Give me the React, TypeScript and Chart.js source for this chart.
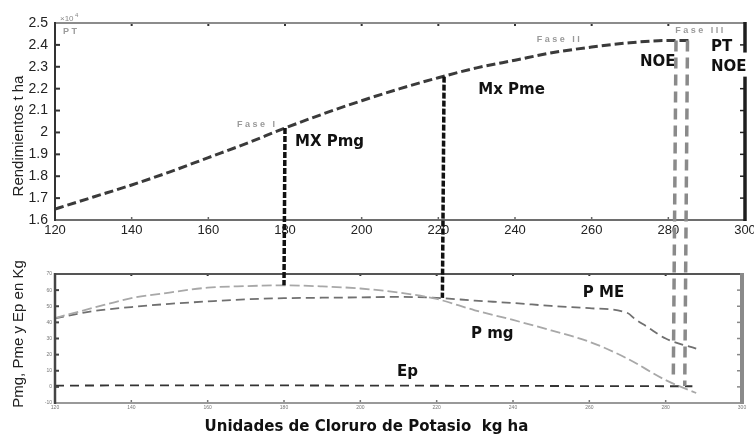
import React, { useEffect, useRef } from 'react';
import { Chart, registerables } from 'chart.js';

Chart.register(...registerables);

// ---------- data ----------
const xTickValues = [120, 140, 160, 180, 200, 220, 240, 260, 280, 300];
const yTopTickValues = [1.6, 1.7, 1.8, 1.9, 2.0, 2.1, 2.2, 2.3, 2.4, 2.5];
const yBottomTickValues = [-10, 0, 10, 20, 30, 40, 50, 60, 70];

const yieldDose = [120, 130, 140, 150, 160, 170, 180, 190, 200, 210, 220, 230, 240, 250, 260, 270, 280, 286];
const yieldValues = [1.65, 1.705, 1.76, 1.82, 1.885, 1.95, 2.02, 2.085, 2.145, 2.2, 2.25, 2.295, 2.33, 2.365, 2.39, 2.41, 2.42, 2.42];

const pmgDose = [120, 130, 140, 150, 160, 170, 180, 190, 200, 210, 220, 230, 240, 250, 260, 270, 280, 288];
const pmgValues = [42.7, 49, 55, 58.5, 61.5, 62.5, 63, 62.3, 61, 58.5, 54.5, 47.5, 41.5, 35, 28, 17.5, 4.2, -3.8];

const pmeDose = [120, 130, 140, 150, 160, 170, 180, 190, 200, 210, 220, 230, 240, 250, 260, 270, 272, 275, 280, 288];
const pmeValues = [42.5, 47, 49.5, 51.5, 53, 54.3, 55, 55.3, 55.5, 55.8, 55.2, 53.5, 52, 50.2, 48.8, 45.8, 42, 37.5, 30, 23.7];

const epDose = [120, 140, 160, 180, 200, 220, 240, 260, 280, 287];
const epValues = [0.8, 0.9, 0.9, 0.9, 0.8, 0.7, 0.6, 0.5, 0.4, 0.4];

// vertical links between the yield curve and the lower panel
const linkKinds = ['MX Pmg', 'Mx Pme', 'NOE', 'NOE'];
const linkDose = [180, 221.5, 282, 285];
const linkTopYield = [2.02, 2.255, 2.42, 2.42];
const linkBottomValue = [63, 55.2, 4.5, 0.5];

// annotation texts (data coordinates)
const topNotes = ['MX Pmg', 'Mx Pme', 'NOE', 'PT', 'NOE'];
const topNoteDose = [182.6, 230.4, 272.6, 291.1, 291.1];
const topNoteYield = [1.956, 2.193, 2.321, 2.389, 2.298];
const topSmallNotes = ['Fase I', 'Fase II', 'Fase III', 'PT'];
const topSmallDose = [167.5, 245.7, 281.8, 122.1];
const topSmallYield = [2.038, 2.423, 2.464, 2.462];
const bottomNotes = ['P ME', 'P mg', 'Ep'];
const bottomNoteDose = [258.3, 229.0, 209.6];
const bottomNoteValue = [58.4, 33.0, 9.4];

const rightAxisGap = [2.255, 2.365];

Chart.defaults.font.family = '"Liberation Sans", Arial, sans-serif';

// ---------- helpers ----------
type Side = { color: string; width: number };
type TickSty = { len: number; color: string; width: number };
type FrameCfg = {
  top: Side; bottom: Side; left: Side; right: Side;
  tickTop: TickSty; tickBottom: TickSty; tickLeft: TickSty; tickRight: TickSty;
  yTicks: number[];
  gap?: number[];
};

function makeFrame(id: string, cfg: FrameCfg) {
  return {
    id,
    afterDraw(chart: any) {
      const { ctx, chartArea: a, scales } = chart;
      const xs = scales.x;
      const ys = scales.y;
      ctx.save();
      ctx.setLineDash([]);
      const line = (x1: number, y1: number, x2: number, y2: number, s: Side) => {
        ctx.beginPath();
        ctx.strokeStyle = s.color;
        ctx.lineWidth = s.width;
        ctx.moveTo(x1, y1);
        ctx.lineTo(x2, y2);
        ctx.stroke();
      };
      xTickValues.forEach((v) => {
        const px = xs.getPixelForValue(v);
        line(px, a.top, px, a.top + cfg.tickTop.len, cfg.tickTop);
        line(px, a.bottom, px, a.bottom - cfg.tickBottom.len, cfg.tickBottom);
      });
      cfg.yTicks.forEach((v) => {
        const py = ys.getPixelForValue(v);
        line(a.left, py, a.left + cfg.tickLeft.len, py, cfg.tickLeft);
        const inGap = cfg.gap && v > cfg.gap[0] && v < cfg.gap[1];
        if (!inGap) line(a.right, py, a.right - cfg.tickRight.len, py, cfg.tickRight);
      });
      line(a.left, a.top, a.right, a.top, cfg.top);
      line(a.left, a.bottom, a.right, a.bottom, cfg.bottom);
      line(a.left, a.top - 1, a.left, a.bottom + 1, cfg.left);
      if (cfg.gap) {
        const gTop = ys.getPixelForValue(cfg.gap[1]);
        const gBot = ys.getPixelForValue(cfg.gap[0]);
        line(a.right, a.top - 1, a.right, gTop, cfg.right);
        line(a.right, gBot, a.right, a.bottom + 1, cfg.right);
      } else {
        line(a.right, a.top - 1, a.right, a.bottom + 1, cfg.right);
      }
      ctx.restore();
    },
  };
}

type NoteStyle = { font: string; color: string; spacing?: string };

function drawNotes(chart: any, texts: string[], xs: number[], ys: number[], st: NoteStyle) {
  const { ctx, scales } = chart;
  ctx.save();
  ctx.textBaseline = 'middle';
  ctx.textAlign = 'left';
  ctx.font = st.font;
  ctx.fillStyle = st.color;
  (ctx as any).letterSpacing = st.spacing || '0px';
  texts.forEach((t, i) => {
    ctx.fillText(t, scales.x.getPixelForValue(xs[i]), scales.y.getPixelForValue(ys[i]));
  });
  (ctx as any).letterSpacing = '0px';
  ctx.restore();
}

function rotatedText(ctx: CanvasRenderingContext2D, text: string, cx: number, cy: number, font: string, color: string) {
  ctx.save();
  ctx.translate(cx, cy);
  ctx.rotate(-Math.PI / 2);
  ctx.font = font;
  ctx.fillStyle = color;
  ctx.textAlign = 'center';
  ctx.textBaseline = 'middle';
  ctx.fillText(text, 0, 0);
  ctx.restore();
}

const bigBold = 'bold 15px "DejaVu Sans", sans-serif';
const smallGray = 'bold 9px "Liberation Sans", sans-serif';

export default function App() {
  const topRef = useRef<HTMLCanvasElement>(null);
  const botRef = useRef<HTMLCanvasElement>(null);

  useEffect(() => {
    const top = new Chart(topRef.current as HTMLCanvasElement, {
      type: 'line',
      data: {
        datasets: [
          {
            label: 'PT',
            data: yieldDose.map((x, i) => ({ x, y: yieldValues[i] })),
            borderColor: '#3a3a3a',
            borderWidth: 3,
            borderDash: [9, 4],
            pointRadius: 0,
            cubicInterpolationMode: 'monotone',
            fill: false,
          },
        ],
      },
      options: {
        animation: false,
        responsive: true,
        maintainAspectRatio: false,
        layout: { padding: { left: 0, top: 23, right: 9, bottom: 196 } },
        plugins: { legend: { display: false }, tooltip: { enabled: false } },
        scales: {
          x: {
            type: 'linear',
            min: 120,
            max: 300,
            afterBuildTicks: (s: any) => { s.ticks = xTickValues.map((v) => ({ value: v })); },
            afterFit: (s: any) => { s.height = 20; s.paddingLeft = 0; s.paddingRight = 0; },
            grid: { display: false, drawTicks: false },
            border: { display: false },
            ticks: { color: '#222', font: { size: 13 }, padding: 3, maxRotation: 0, autoSkip: false },
          },
          y: {
            type: 'linear',
            min: 1.6,
            max: 2.5,
            afterBuildTicks: (s: any) => { s.ticks = yTopTickValues.map((v) => ({ value: v })); },
            afterFit: (s: any) => { s.width = 55; s.paddingTop = 0; s.paddingBottom = 0; },
            grid: { display: false, drawTicks: false },
            border: { display: false },
            ticks: {
              color: '#222',
              font: { size: 14 },
              padding: 7,
              callback: (v: any) => String(Math.round(Number(v) * 10) / 10),
            },
          },
        },
      } as any,
      plugins: [
        makeFrame('topFrame', {
          top: { color: '#8c8c8c', width: 2 },
          bottom: { color: '#6e6e6e', width: 2 },
          left: { color: '#333', width: 2 },
          right: { color: '#1e1e1e', width: 3.5 },
          tickTop: { len: 3, color: '#333', width: 2 },
          tickBottom: { len: 3, color: '#666', width: 1.5 },
          tickLeft: { len: 5, color: '#333', width: 2 },
          tickRight: { len: 5, color: '#222', width: 1.5 },
          yTicks: yTopTickValues,
          gap: rightAxisGap,
        }),
        {
          id: 'topNotes',
          afterDraw(chart: any) {
            drawNotes(chart, topNotes, topNoteDose, topNoteYield, { font: bigBold, color: '#111' });
            drawNotes(chart, topSmallNotes, topSmallDose, topSmallYield, { font: smallGray, color: '#9a9a9a', spacing: '2.5px' });
            const { ctx, chartArea: a } = chart;
            rotatedText(ctx, 'Rendimientos t ha', 19, 136, '15px "Liberation Sans", Arial, sans-serif', '#222');
            ctx.save();
            ctx.fillStyle = '#888';
            ctx.font = '8px "Liberation Sans", sans-serif';
            ctx.textBaseline = 'alphabetic';
            ctx.fillText('\u00d710', a.left + 5, a.top - 2);
            ctx.font = '6px "Liberation Sans", sans-serif';
            ctx.fillText('4', a.left + 20, a.top - 6);
            ctx.restore();
          },
        },
      ],
    });

    const bottom = new Chart(botRef.current as HTMLCanvasElement, {
      type: 'line',
      data: {
        datasets: [
          {
            label: 'P mg',
            data: pmgDose.map((x, i) => ({ x, y: pmgValues[i] })),
            borderColor: '#a8a8a8',
            borderWidth: 1.8,
            borderDash: [10, 4],
            pointRadius: 0,
            cubicInterpolationMode: 'monotone',
            fill: false,
            clip: false,
          },
          {
            label: 'P ME',
            data: pmeDose.map((x, i) => ({ x, y: pmeValues[i] })),
            borderColor: '#707070',
            borderWidth: 1.8,
            borderDash: [9, 5],
            pointRadius: 0,
            cubicInterpolationMode: 'monotone',
            fill: false,
            clip: false,
          },
          {
            label: 'Ep',
            data: epDose.map((x, i) => ({ x, y: epValues[i] })),
            borderColor: '#333',
            borderWidth: 1.8,
            borderDash: [9, 6],
            pointRadius: 0,
            fill: false,
            clip: false,
          },
        ],
      },
      options: {
        animation: false,
        responsive: true,
        maintainAspectRatio: false,
        layout: { padding: { left: 0, top: 274, right: 12, bottom: 0 } },
        plugins: { legend: { display: false }, tooltip: { enabled: false } },
        scales: {
          x: {
            type: 'linear',
            min: 120,
            max: 300,
            afterBuildTicks: (s: any) => { s.ticks = xTickValues.map((v) => ({ value: v })); },
            afterFit: (s: any) => { s.height = 33; s.paddingLeft = 0; s.paddingRight = 0; },
            grid: { display: false, drawTicks: false },
            border: { display: false },
            ticks: { color: '#777', font: { size: 5 }, padding: 2, maxRotation: 0, autoSkip: false },
          },
          y: {
            type: 'linear',
            min: -10,
            max: 70,
            afterBuildTicks: (s: any) => { s.ticks = yBottomTickValues.map((v) => ({ value: v })); },
            afterFit: (s: any) => { s.width = 55; s.paddingTop = 0; s.paddingBottom = 0; },
            grid: { display: false, drawTicks: false },
            border: { display: false },
            ticks: { color: '#777', font: { size: 5 }, padding: 3 },
          },
        },
      } as any,
      plugins: [
        makeFrame('botFrame', {
          top: { color: '#555', width: 2 },
          bottom: { color: '#999', width: 2 },
          left: { color: '#444', width: 2.5 },
          right: { color: '#8a8a8a', width: 4 },
          tickTop: { len: 2, color: '#333', width: 2 },
          tickBottom: { len: 3, color: '#777', width: 1.5 },
          tickLeft: { len: 4, color: '#444', width: 2 },
          tickRight: { len: 5, color: '#888', width: 1.5 },
          yTicks: yBottomTickValues,
        }),
        {
          id: 'links',
          afterDraw(chart: any) {
            const { ctx, scales } = chart;
            const tx = top.scales.x;
            const ty = top.scales.y;
            ctx.save();
            linkKinds.forEach((k, i) => {
              const isNoe = k === 'NOE';
              ctx.beginPath();
              ctx.strokeStyle = isNoe ? '#8a8a8a' : '#111';
              ctx.lineWidth = 3.5;
              ctx.setLineDash(isNoe ? [11, 6] : [6, 2]);
              ctx.moveTo(tx.getPixelForValue(linkDose[i]), ty.getPixelForValue(linkTopYield[i]));
              ctx.lineTo(scales.x.getPixelForValue(linkDose[i]), scales.y.getPixelForValue(linkBottomValue[i]));
              ctx.stroke();
            });
            ctx.restore();
          },
        },
        {
          id: 'botNotes',
          afterDraw(chart: any) {
            drawNotes(chart, bottomNotes, bottomNoteDose, bottomNoteValue, { font: bigBold, color: '#111' });
            const { ctx } = chart;
            rotatedText(ctx, 'Pmg, Pme y Ep en Kg', 19, 334, '15px "Liberation Sans", Arial, sans-serif', '#222');
            ctx.save();
            ctx.font = 'bold 15px "DejaVu Sans", sans-serif';
            ctx.fillStyle = '#111';
            ctx.textAlign = 'center';
            ctx.textBaseline = 'middle';
            ctx.fillText('Unidades de Cloruro de Potasio  kg ha', 366.5, 427);
            ctx.restore();
          },
        },
      ],
    });

    return () => {
      bottom.destroy();
      top.destroy();
    };
  }, []);

  return (
    <div style={{ position: 'fixed', left: 0, top: 0, width: 754, height: 436, background: '#fff' }}>
      <div style={{ position: 'absolute', left: 0, top: 0, width: 754, height: 436 }}>
        <canvas ref={topRef} />
      </div>
      <div style={{ position: 'absolute', left: 0, top: 0, width: 754, height: 436 }}>
        <canvas ref={botRef} />
      </div>
    </div>
  );
}
